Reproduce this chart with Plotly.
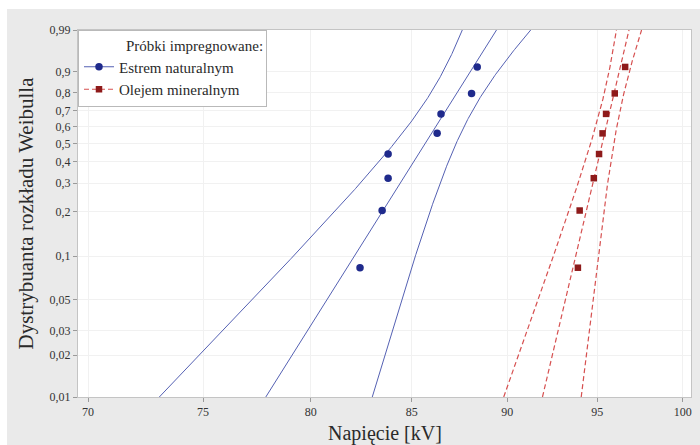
import numpy as np
import plotly.graph_objects as go

# Breakdown voltages [kV] of the impregnated samples
estr_kv = [82.4, 83.5, 83.8, 83.8, 86.3, 86.5, 88.1, 88.4]
olej_kv = [93.9, 94.0, 94.8, 95.1, 95.3, 95.5, 96.0, 96.6]

series_names = ["Estrem naturalnym", "Olejem mineralnym"]
legend_title = "Próbki impregnowane:"

x_ticks = [70, 75, 80, 85, 90, 95, 100]
y_ticks = [0.01, 0.02, 0.03, 0.05, 0.1, 0.2, 0.3, 0.4, 0.5, 0.6, 0.7, 0.8, 0.9, 0.99]
y_tick_text = ["0,01", "0,02", "0,03", "0,05", "0,1", "0,2", "0,3", "0,4",
               "0,5", "0,6", "0,7", "0,8", "0,9", "0,99"]

W, H = 700, 445
ML, MR, MT, MB = 78, 9, 30, 48
PW, PH = W - ML - MR, H - MT - MB


def wtrans(p):
    """Weibull probability-paper coordinate."""
    p = np.asarray(p, dtype=float)
    return np.log(-np.log(1.0 - p))


def median_ranks(n):
    i = np.arange(1, n + 1)
    return (i - 0.3) / (n + 0.4)


def weibull_mle(x):
    """Maximum-likelihood Weibull fit on the log scale (location u, scale b)."""
    y = np.log(np.asarray(x, dtype=float))
    t = y - y.max()

    def g(beta):
        w = np.exp(beta * t)
        return (w * t).sum() / w.sum() - 1.0 / beta - t.mean()

    lo, hi = 0.5, 5000.0
    for _ in range(200):
        mid = 0.5 * (lo + hi)
        if g(mid) > 0:
            hi = mid
        else:
            lo = mid
    beta = 0.5 * (lo + hi)
    u = y.max() + np.log(np.mean(np.exp(beta * t))) / beta
    b = 1.0 / beta

    # observed Fisher information for (u, b)
    z = (y - u) / b
    ez = np.exp(z)
    i_uu = ez.sum() / b**2
    i_ub = (z * ez + ez - 1).sum() / b**2
    i_bb = (-1 - 2 * z + 2 * z * ez + z**2 * ez).sum() / b**2
    cov = np.linalg.inv(np.array([[i_uu, i_ub], [i_ub, i_bb]]))
    return u, b, cov


y_lo, y_hi = float(wtrans(0.01)), float(wtrans(0.99))
w_line = np.linspace(y_lo, y_hi, 300)

fig = go.Figure()

styles = [
    dict(mk="#1f2a8c", ln="#5561b3", symbol="circle", dash="solid", size=7.5, lw=1.0),
    dict(mk="#8e1a1a", ln="#d65050", symbol="square", dash="5px,3px", size=6.5, lw=1.2),
]

for vals, name, st in zip([estr_kv, olej_kv], series_names, styles):
    xs = np.sort(np.asarray(vals, dtype=float))
    ys = wtrans(median_ranks(len(xs)))
    u, b, cov = weibull_mle(xs)

    # fitted percentile line with 95% confidence bounds
    yp = u + w_line * b
    sd = np.sqrt(cov[0, 0] + w_line**2 * cov[1, 1] + 2 * w_line * cov[0, 1])
    for curve in (yp - 1.96 * sd, yp, yp + 1.96 * sd):
        fig.add_trace(go.Scatter(
            x=np.exp(curve), y=w_line, mode="lines", showlegend=False,
            line=dict(color=st["ln"], width=st["lw"], dash=st["dash"]),
            hoverinfo="skip"))

    fig.add_trace(go.Scatter(
        x=xs, y=ys, mode="markers", showlegend=False, name=name,
        marker=dict(color=st["mk"], symbol=st["symbol"], size=st["size"])))

    # legend entry: fit line with the sample marker
    fig.add_trace(go.Scatter(
        x=[None], y=[None], mode="lines+markers", name=name,
        line=dict(color=st["ln"], width=st["lw"], dash=st["dash"]),
        marker=dict(color=st["mk"], symbol=st["symbol"], size=st["size"])))

SERIF = "Liberation Serif"
grid_col = "#f1f1f1"
text_col = "#2a2a2a"

fig.update_layout(
    width=W, height=H,
    margin=dict(l=ML, r=MR, t=MT, b=MB, pad=0),
    paper_bgcolor="#eaeaea",
    plot_bgcolor="white",
    font=dict(family=SERIF, color=text_col, size=12),
    showlegend=True,
    legend=dict(
        x=0, y=1, xanchor="left", yanchor="top",
        bgcolor="white", bordercolor="#b9b9b9", borderwidth=1,
        font=dict(family=SERIF, size=15, color=text_col),
        title=dict(text="\u2003\u2003\u2003" + legend_title,
                   font=dict(family=SERIF, size=15, color=text_col)),
        itemwidth=30, tracegroupgap=0,
    ),
    xaxis=dict(
        type="log",
        range=[np.log10(69.58), np.log10(100.49)],
        tickvals=x_ticks, ticktext=[str(v) for v in x_ticks],
        showgrid=True, gridcolor=grid_col, gridwidth=1,
        showline=True, linecolor="#c4c4c4", linewidth=1, mirror=True,
        ticks="outside", ticklen=4, tickcolor="#9a9a9a",
        tickfont=dict(family=SERIF, size=12, color="#333333"),
        zeroline=False,
    ),
    yaxis=dict(
        range=[y_lo, y_hi],
        tickvals=list(wtrans(y_ticks)), ticktext=y_tick_text,
        showgrid=True, gridcolor=grid_col, gridwidth=1,
        showline=True, linecolor="#c4c4c4", linewidth=1, mirror=True,
        ticks="outside", ticklen=4, tickcolor="#9a9a9a",
        tickfont=dict(family=SERIF, size=12, color="#333333"),
        zeroline=False,
    ),
    annotations=[
        dict(text="Napięcie [kV]", xref="paper", yref="paper",
             x=0.5, y=-(433 - (MT + PH)) / PH, xanchor="center", yanchor="middle",
             showarrow=False, font=dict(family=SERIF, size=20, color=text_col)),
        dict(text="Dystrybuanta rozkładu Weibulla", xref="paper", yref="paper",
             x=(25 - ML) / PW, y=0.5, xanchor="center", yanchor="middle",
             textangle=-90, showarrow=False,
             font=dict(family=SERIF, size=21, color=text_col)),
    ],
    shapes=[
        # white page strips around the grey chart panel
        dict(type="rect", xref="paper", yref="paper",
             x0=-ML / PW, x1=(W - ML) / PW, y0=1 + (MT - 9) / PH, y1=1 + MT / PH,
             fillcolor="white", line=dict(width=0), layer="below"),
        dict(type="rect", xref="paper", yref="paper",
             x0=-ML / PW, x1=(7 - ML) / PW, y0=-MB / PH, y1=1 + MT / PH,
             fillcolor="white", line=dict(width=0), layer="below"),
    ],
)

fig.write_html("out.html")
